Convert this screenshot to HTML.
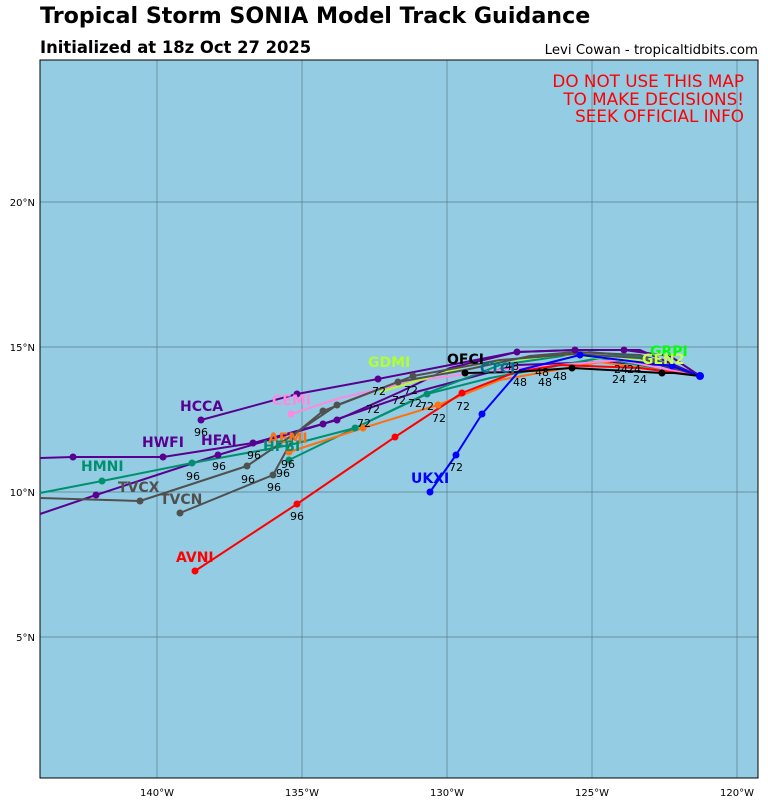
<!DOCTYPE html>
<html><head><meta charset="utf-8"><style>
body{margin:0;background:#fff;width:768px;height:801px;overflow:hidden;font-family:"Liberation Sans","DejaVu Sans",sans-serif}
</style></head><body>
<svg width="768" height="801" xmlns="http://www.w3.org/2000/svg" font-family="DejaVu Sans, Liberation Sans, sans-serif">
<text x="40" y="23" font-size="22.2" font-weight="bold">Tropical Storm SONIA Model Track Guidance</text>
<text x="40" y="53" font-size="16.4" font-weight="bold">Initialized at 18z Oct 27 2025</text>
<text x="758" y="54" font-size="13.3" text-anchor="end">Levi Cowan - tropicaltidbits.com</text>
<rect x="40" y="60" width="718" height="718" fill="#94cde3"/>
<g stroke="#5a7a88" stroke-width="0.7">
<line x1="157" y1="60" x2="157" y2="778"/><line x1="302" y1="60" x2="302" y2="778"/><line x1="447" y1="60" x2="447" y2="778"/><line x1="592" y1="60" x2="592" y2="778"/><line x1="737" y1="60" x2="737" y2="778"/>
<line x1="40" y1="202" x2="758" y2="202"/><line x1="40" y1="347" x2="758" y2="347"/><line x1="40" y1="492" x2="758" y2="492"/><line x1="40" y1="637" x2="758" y2="637"/>
</g>
<rect x="40" y="60" width="718" height="718" fill="none" stroke="#000" stroke-width="1"/>
<g font-size="10" fill="#000">
<text x="157" y="796" text-anchor="middle">140°W</text><text x="302" y="796" text-anchor="middle">135°W</text><text x="447" y="796" text-anchor="middle">130°W</text><text x="592" y="796" text-anchor="middle">125°W</text><text x="737" y="796" text-anchor="middle">120°W</text>
<text x="35" y="206" text-anchor="end">20°N</text><text x="35" y="351" text-anchor="end">15°N</text><text x="35" y="496" text-anchor="end">10°N</text><text x="35" y="641" text-anchor="end">5°N</text>
</g>
<g font-size="16.8" fill="#ff0000" text-anchor="end">
<text x="744" y="87">DO NOT USE THIS MAP</text><text x="744" y="105">TO MAKE DECISIONS!</text><text x="744" y="122">SEEK OFFICIAL INFO</text>
</g>
<g fill="none" stroke-width="2" stroke-linejoin="round">
<polyline stroke="#5a0090" points="700,376 670,356 624,350 575,350 517,352 450,368 400,392 337,420 253,443 163,457 73,457 40,458"/>
<polyline stroke="#5a0090" points="700,376 660,365 600,362 517,365 416,392 323,424 218,455 96,495 40,514"/>
<polyline stroke="#5a0090" points="700,376 640,350 575,350 517,352 378,379 297,394 201,420"/>
<polyline stroke="#009070" points="700,376 650,358 590,352 500,365 430,392 355,428 290,445 192,463 102,481 40,493"/>
<polyline stroke="#009070" points="700,376 600,358 490,378 427,394 355,428 289,460"/>
<polyline stroke="#ff7010" points="700,376 600,362 500,380 438,405 363,428 289,452"/>
<polyline stroke="#ff88e0" points="700,376 620,360 500,370 420,380 340,398 291,414"/>
<polyline stroke="#b0ff30" points="700,376 660,362 560,355 470,365 380,392"/>
<polyline stroke="#505050" points="700,376 640,355 575,352 530,356 465,370 398,382 337,405 300,430 247,466 140,501 40,498"/>
<polyline stroke="#505050" points="700,376 640,358 575,354 500,360 413,376 323,411 296,433 273,475 180,513"/>
<polyline stroke="#ff0000" points="700,376 640,368 560,365 516,372 462,393 395,437 297,504 195,571"/>
<polyline stroke="#0000ff" points="700,376 672,366 580,355 520,370 482,414 456,455 430,492"/>
<polyline stroke="#000" points="700,376 674,373 662,373 572,368 516,372 465,373"/>
</g>
<g>
<g fill="#5a0090"><circle cx="73" cy="457" r="3.5"/><circle cx="163" cy="457" r="3.5"/><circle cx="253" cy="443" r="3.5"/><circle cx="337" cy="420" r="3.5"/><circle cx="96" cy="495" r="3.5"/><circle cx="218" cy="455" r="3.5"/><circle cx="323" cy="424" r="3.5"/><circle cx="201" cy="420" r="3.5"/><circle cx="297" cy="394" r="3.5"/><circle cx="378" cy="379" r="3.5"/><circle cx="517" cy="352" r="3.5"/><circle cx="575" cy="350" r="3.5"/><circle cx="624" cy="350" r="3.5"/></g>
<g fill="#009070"><circle cx="102" cy="481" r="3.5"/><circle cx="192" cy="463" r="3.5"/><circle cx="289" cy="460" r="3.5"/><circle cx="355" cy="428" r="3.5"/><circle cx="427" cy="394" r="3.5"/></g>
<g fill="#ff7010"><circle cx="289" cy="452" r="3.5"/><circle cx="363" cy="428" r="3.5"/><circle cx="438" cy="405" r="3.5"/></g>
<circle cx="291" cy="414" r="3.5" fill="#ff88e0"/>
<g fill="#505050"><circle cx="140" cy="501" r="3.5"/><circle cx="247" cy="466" r="3.5"/><circle cx="323" cy="411" r="3.5"/><circle cx="337" cy="405" r="3.5"/><circle cx="180" cy="513" r="3.5"/><circle cx="273" cy="475" r="3.5"/><circle cx="398" cy="382" r="3.5"/><circle cx="413" cy="376" r="3.5"/></g>
<g fill="#ff0000"><circle cx="195" cy="571" r="3.5"/><circle cx="297" cy="504" r="3.5"/><circle cx="395" cy="437" r="3.5"/><circle cx="462" cy="393" r="3.5"/></g>
<g fill="#0000ff"><circle cx="430" cy="492" r="3.5"/><circle cx="456" cy="455" r="3.5"/><circle cx="482" cy="414" r="3.5"/><circle cx="580" cy="355" r="3.5"/><circle cx="672" cy="366" r="3.5"/><circle cx="700" cy="376" r="4"/></g>
<g fill="#000"><circle cx="465" cy="373" r="3.5"/><circle cx="572" cy="368" r="3.5"/><circle cx="662" cy="373" r="3.5"/></g>
</g>
<g font-size="11" fill="#000">
<text x="372" y="395">72</text><text x="366" y="413">72</text><text x="392" y="404">72</text><text x="408" y="407">72</text><text x="420" y="410">72</text><text x="432" y="422">72</text><text x="456" y="410">72</text><text x="449" y="471">72</text><text x="357" y="427">72</text><text x="404" y="394">72</text>
<text x="513" y="386">48</text><text x="538" y="386">48</text><text x="553" y="380">48</text><text x="505" y="370">48</text><text x="535" y="376">48</text>
<text x="612" y="383">24</text><text x="633" y="383">24</text><text x="614" y="373">24</text><text x="627" y="373">24</text>
<text x="194" y="436">96</text><text x="212" y="470">96</text><text x="186" y="480">96</text><text x="247" y="459">96</text><text x="281" y="468">96</text><text x="241" y="483">96</text><text x="276" y="477">96</text><text x="267" y="491">96</text><text x="290" y="520">96</text>
</g>
<g font-size="14" font-weight="bold">
<text x="180" y="411" fill="#5a0090">HCCA</text>
<text x="142" y="447" fill="#5a0090">HWFI</text>
<text x="201" y="445" fill="#5a0090">HFAI</text>
<text x="81" y="471" fill="#009070">HMNI</text>
<text x="118" y="492" fill="#505050">TVCX</text>
<text x="160" y="504" fill="#505050">TVCN</text>
<text x="272" y="405" fill="#ff88e0">CEMI</text>
<text x="268" y="443" fill="#ff7010">AEMI</text>
<text x="263" y="451" fill="#009070">HFBI</text>
<text x="176" y="562" fill="#ff0000">AVNI</text>
<text x="411" y="483" fill="#0000ff">UKXI</text>
<text x="368" y="367" fill="#b0ff30">GDMI</text>
<text x="447" y="364" fill="#000">OFCI</text>
<text x="480" y="373" fill="#007090">CTCI</text>
<text x="650" y="356" fill="#00ff00">GRPI</text>
<text x="642" y="364" fill="#c8ff50">GEN2</text>
</g>
</svg>
</body></html>
